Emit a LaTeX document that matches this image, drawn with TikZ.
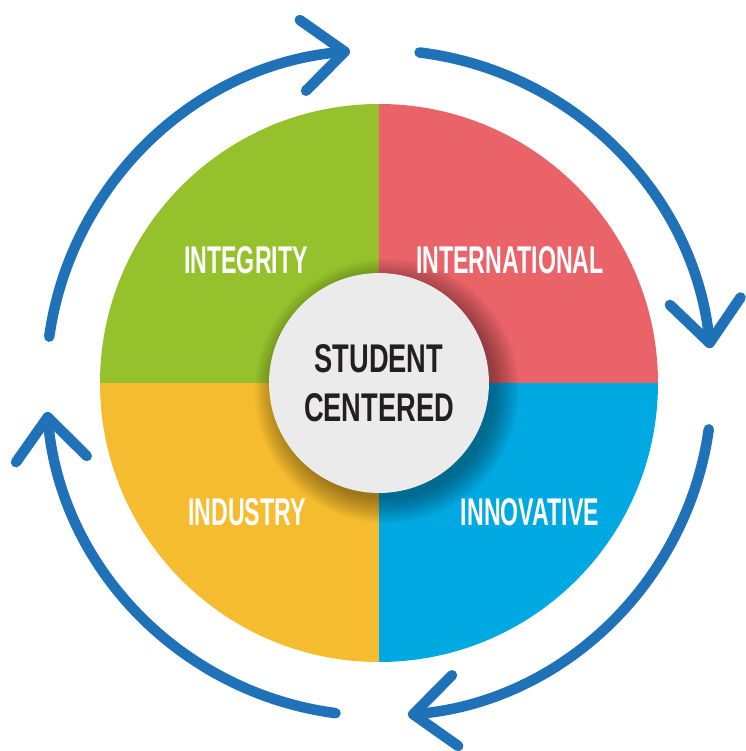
\documentclass[tikz,border=0pt]{standalone}
\usepackage{fontspec}
\usepackage{xcolor}
\usepackage{tikz}
\usetikzlibrary{arrows.meta}

\newfontfamily\segfont[FakeStretch=0.60]{Liberation Sans}
\newfontfamily\hubfont[FakeStretch=0.68]{Liberation Sans}

\definecolor{greenq}{HTML}{95C22C}
\definecolor{redq}{HTML}{EA6369}
\definecolor{blueq}{HTML}{00A9E2}
\definecolor{yellowq}{HTML}{F6BC2F}
\definecolor{cyclecol}{HTML}{1F71B8}
\definecolor{hubfill}{HTML}{EBEBEB}
\definecolor{hubtext}{HTML}{231F20}

\begin{document}
\begin{tikzpicture}[
    x=0.02cm, y=0.02cm,
    value/.style={text=white, font=\segfont\bfseries\fontsize{22}{24}\selectfont, inner sep=0pt},
    hub/.style={circle, fill=hubfill, minimum size=4.4cm, inner sep=0pt, align=center, text=hubtext, font=\hubfont\bfseries\fontsize{22.8}{27.8}\selectfont},
    cyclearrow/.style={line width=0.21cm, color=cyclecol, line cap=round, -{Straight Barb[length=0.84cm, width=1.42cm, round]}}
]
    \useasboundingbox (-379,-368) rectangle (367,383);

    % Quadrants
    \fill[greenq] (0,0) -- (180:279) arc[start angle=180, end angle=90, radius=279] -- cycle;
    \fill[redq] (0,0) -- (90:279) arc[start angle=90, end angle=0, radius=279] -- cycle;
    \fill[blueq] (0,0) -- (0:279) arc[start angle=0, end angle=-90, radius=279] -- cycle;
    \fill[yellowq] (0,0) -- (-90:279) arc[start angle=-90, end angle=-180, radius=279] -- cycle;

    % Soft shadow round the hub, falling to the lower right
    \begin{scope}
        \clip (0,0) circle[radius=279];
        \foreach \r in {0,...,12}
            \fill[black, opacity=0.03] (8,-8) circle[radius=108+2*\r];
    \end{scope}

    % Values
    \node[value] (integrity) at (-133,123) {INTEGRITY};
    \node[value] (international) at (131,123) {INTERNATIONAL};
    \node[value] (industry) at (-132,-129) {INDUSTRY};
    \node[value] (innovative) at (151,-129) {INNOVATIVE};

    % Hub
    \node[hub] (hub) at (0,0) {STUDENT\\CENTERED};

    % Cycle arrows
    \foreach \s/\e [count=\i] in {172/95, 83/6, -8/-85, -97.5/-175} {
        \coordinate (from\i) at (\s:333);
        \draw[cyclearrow] (from\i) arc[start angle=\s, end angle=\e, radius=333];
    }

\end{tikzpicture}
\end{document}
